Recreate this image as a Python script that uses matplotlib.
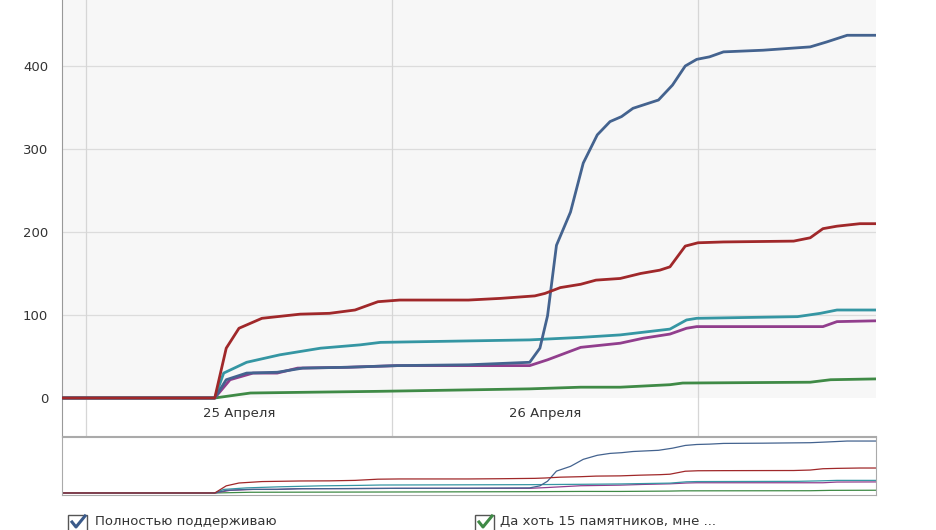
import numpy as np
import matplotlib
matplotlib.use("Agg")
import matplotlib.pyplot as plt
from matplotlib.patches import Rectangle
from matplotlib.lines import Line2D

# hours counted from 25 April 00:00
red_h = [-2, 10.1, 11, 12, 13.8, 16.8, 19.1, 21.1, 22.9, 24.6, 30, 32.5, 35.2, 36, 37.2, 38.8, 40, 41.9,
         43.5, 45, 45.8, 47, 48, 50, 55.5, 56.8, 57.8, 58.9, 60.7, 62]
red_v = [0, 0, 60, 84, 96, 101, 102, 106, 116, 118, 118, 120, 123, 126, 133, 137, 142, 144,
         150, 154, 158, 183, 187, 188, 189, 193, 204, 207, 210, 210]

blue_h = [-2, 10.1, 11, 12.6, 15, 17, 20.5, 24.4, 30, 34.8, 35.6, 36.2, 36.9, 38, 39, 40.1, 41.1, 42,
          42.9, 44.1, 44.9, 46, 47, 47.9, 48.9, 50, 53.1, 56.8, 58.1, 59.7, 62]
blue_v = [0, 0, 22, 30, 31, 36, 37, 39, 40, 43, 60, 99, 184, 224, 283, 317, 333, 339,
          349, 355, 359, 377, 400, 408, 411, 417, 419, 423, 429, 437, 437]

teal_h = [-2, 10.1, 10.8, 12.6, 15.2, 18.4, 21.5, 23.1, 30.9, 34.8, 38.8, 41.9, 45.8, 47.1, 47.9,
          55.8, 57.6, 58.9, 62]
teal_v = [0, 0, 30, 43, 52, 60, 64, 67, 69, 70, 73, 76, 83, 94, 96, 98, 102, 106, 106]

mag_h = [-2, 10.1, 11.3, 13.1, 15, 16.6, 20.5, 24.4, 34.8, 36.2, 38.8, 41.9, 43.7, 45.8, 47.1, 47.9,
         57.8, 58.9, 62]
mag_v = [0, 0, 22, 30, 30, 36, 37, 39, 39, 46, 61, 66, 72, 77, 84, 86, 86, 92, 93]

green_h = [-2, 10.1, 12.9, 17.8, 22.9, 30.9, 34.8, 38.8, 41.9, 45.8, 46.8, 56.8, 58.4, 62]
green_v = [0, 0, 6, 7, 8, 10, 11, 13, 13, 16, 18, 19, 22, 23]

day_labels = ["25 Апреля", "26 Апреля"]
legend_labels = ["Полностью поддерживаю", "Да хоть 15 памятников, мне ..."]

series = [
    (green_h, green_v, "#3f8a46"),
    (mag_h, mag_v, "#913e8d"),
    (teal_h, teal_v, "#3596a3"),
    (blue_h, blue_v, "#44638f"),
    (red_h, red_v, "#a0282a"),
]

W, H = 936, 530
fig = plt.figure(figsize=(W / 100, H / 100), dpi=100)
plt.rcParams['font.family'] = ['DejaVu Sans']

x0, x1 = -1.88, 61.96
left = 62 / W
width = (876 - 62) / W

# main chart (includes white label band below zero)
ax = fig.add_axes([left, (H - 436) / H, width, 436 / H])
ax.set_xlim(x0, x1)
ax.set_ylim(-45.8, 479.5)
ax.axhspan(0, 479.5, color="#f7f7f7", zorder=0, lw=0)
for yv in [100, 200, 300, 400]:
    ax.axhline(yv, color="#dcdcdc", lw=0.9, zorder=1)
for xv in [0, 24, 48]:
    ax.axvline(xv, color="#d6d6d6", lw=0.9, zorder=1)
for h, v, c in series:
    ax.plot(h, v, color=c, lw=2.0, zorder=3, solid_joinstyle="round")
ax.set_yticks([0, 100, 200, 300, 400])
ax.set_yticklabels(["0", "100", "200", "300", "400"], fontsize=9.5, color="#333333")
ax.tick_params(axis="y", length=0, pad=10)
ax.set_xticks([])
for sp in ["top", "right"]:
    ax.spines[sp].set_visible(False)
ax.spines["left"].set_color("#999999")
ax.spines["bottom"].set_color("#aaaaaa")
for i, lab in enumerate(day_labels):
    ax.text(12 + 24 * i, -19, lab, ha="center", va="center", fontsize=9.5, color="#333333")

# navigator
nav = fig.add_axes([left, (H - 495) / H, width, 58 / H])
nav.set_xlim(x0, x1)
nav.set_ylim(-17, 471)
for h, v, c in series:
    nav.plot(h, v, color=c, lw=0.9)
nav.set_xticks([])
nav.set_yticks([])
for sp in nav.spines.values():
    sp.set_color("#aaaaaa")

# legend with checkboxes
checks = [(68, 95, "#3a5a8a"), (475, 500, "#3f8a46")]
for (bx, tx, cc), lab in zip(checks, legend_labels):
    fig.patches.append(Rectangle((bx / W, (H - 533) / H), 19 / W, 18 / H, transform=fig.transFigure,
                                 fill=False, edgecolor="#555555", lw=1.0))
    fig.lines.append(Line2D([(bx + 4) / W, (bx + 8) / W, (bx + 17) / W],
                            [(H - 522) / H, (H - 527) / H, (H - 516) / H],
                            transform=fig.transFigure, color=cc, lw=2.2))
    fig.text(tx / W, (H - 521) / H, lab, fontsize=9.5, color="#333333", va="center", ha="left")

fig.savefig("out.png", dpi=100)
